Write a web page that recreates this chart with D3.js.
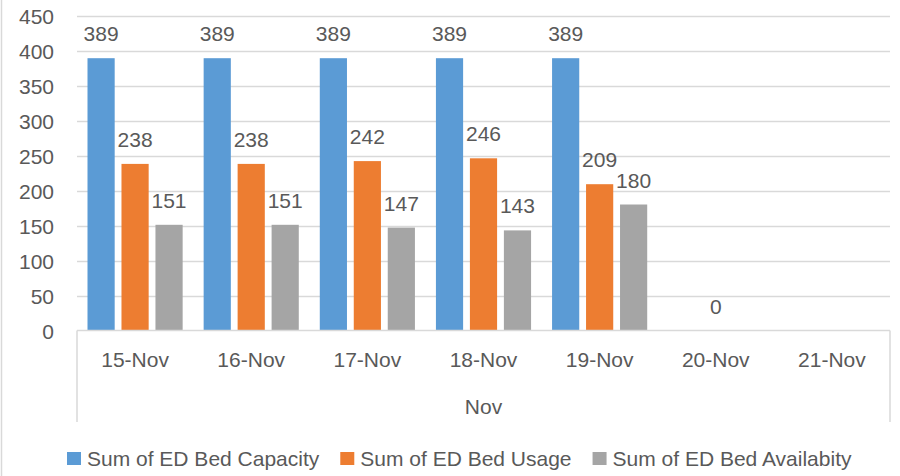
<!DOCTYPE html>
<html>
<head>
<meta charset="utf-8">
<script src="https://cdn.jsdelivr.net/npm/d3@7"></script>
<style>
  body { margin: 0; background: #fff; }
  svg text { font-family: 'Liberation Sans', Arial, sans-serif; fill: #595959; }
</style>
</head>
<body>
<div id="chart"></div>
<script>
const categories = ['15-Nov', '16-Nov', '17-Nov', '18-Nov', '19-Nov', '20-Nov', '21-Nov']
const seriesNames = ['Sum of ED Bed Capacity', 'Sum of ED Bed Usage', 'Sum of ED Bed Availabity']
const capacity = [389, 389, 389, 389, 389, null, null]
const usage = [238, 238, 242, 246, 209, 0, null]
const availability = [151, 151, 147, 143, 180, null, null]
const yTicks = [0, 50, 100, 150, 200, 250, 300, 350, 400, 450]
const groupLabel = 'Nov'

const colors = ['#5B9BD5', '#ED7D31', '#A5A5A5']
const dims = { width: 900, height: 476, left: 77, right: 890, top: 15.5, bottom: 330.5 }

const rows = categories.map((c, i) => ({
  cat: c,
  values: [capacity[i], usage[i], availability[i]]
}))

const svg = d3.select('#chart').append('svg')
  .attr('width', dims.width)
  .attr('height', dims.height)

// outer chart border (left edge visible)
svg.append('line')
  .attr('x1', 1.5).attr('x2', 1.5).attr('y1', 0).attr('y2', dims.height)
  .attr('stroke', '#D9D9D9').attr('stroke-width', 1.5)

const x0 = d3.scaleBand().domain(categories).range([dims.left, dims.right]).padding(0)
const x1 = d3.scaleBand().domain(d3.range(3))
  .range([10.5, x0.bandwidth() - 10.5]).paddingInner(0.2)
const y = d3.scaleLinear().domain([0, 450]).range([dims.bottom, dims.top])

// gridlines
svg.append('g').selectAll('line')
  .data(yTicks.filter(d => d > 0))
  .join('line')
  .attr('x1', dims.left).attr('x2', dims.right)
  .attr('y1', d => Math.round(y(d)) + 0.5).attr('y2', d => Math.round(y(d)) + 0.5)
  .attr('stroke', '#D9D9D9').attr('stroke-width', 1.5)

// y tick labels
const yAxis = d3.axisLeft(y).tickValues(yTicks).tickSize(0).tickPadding(0)
const yg = svg.append('g')
  .attr('transform', `translate(${dims.left - 23}, 0)`)
  .call(yAxis)
yg.select('.domain').remove()
yg.selectAll('text')
  .style('font-size', '21px')
  .style('font-family', "'Liberation Sans', Arial, sans-serif")
  .attr('fill', '#595959')
  .attr('dy', '0.36em')

// bars
const groups = svg.append('g').selectAll('g')
  .data(rows)
  .join('g')
  .attr('transform', d => `translate(${x0(d.cat)}, 0)`)

groups.selectAll('rect')
  .data(d => d.values.map((v, i) => ({ v, i })).filter(e => e.v != null))
  .join('rect')
  .attr('x', d => x1(d.i))
  .attr('width', x1.bandwidth())
  .attr('y', d => y(d.v))
  .attr('height', d => y(0) - y(d.v))
  .attr('fill', d => colors[d.i])

groups.selectAll('text')
  .data(d => d.values.map((v, i) => ({ v, i })).filter(e => e.v != null))
  .join('text')
  .attr('x', d => x1(d.i) + x1.bandwidth() / 2)
  .attr('y', d => y(d.v) - 17)
  .attr('text-anchor', 'middle')
  .style('font-size', '21px')
  .text(d => d.v)

// x axis line and outer category separators
svg.append('line')
  .attr('x1', dims.left).attr('x2', dims.right)
  .attr('y1', dims.bottom).attr('y2', dims.bottom)
  .attr('stroke', '#D9D9D9').attr('stroke-width', 1.5)
;[dims.left, dims.right].forEach(xv => {
  svg.append('line')
    .attr('x1', xv).attr('x2', xv)
    .attr('y1', dims.bottom).attr('y2', 422)
    .attr('stroke', '#D9D9D9').attr('stroke-width', 1.5)
})

svg.append('g').selectAll('text')
  .data(categories)
  .join('text')
  .attr('x', d => x0(d) + x0.bandwidth() / 2)
  .attr('y', 366.5)
  .attr('text-anchor', 'middle')
  .style('font-size', '21px')
  .text(d => d)

svg.append('text')
  .attr('x', (dims.left + dims.right) / 2)
  .attr('y', 413.5)
  .attr('text-anchor', 'middle')
  .style('font-size', '21px')
  .text(groupLabel)

// legend
const legend = svg.append('g')
let lx = 67
seriesNames.forEach((name, i) => {
  legend.append('rect')
    .attr('x', lx).attr('y', 452)
    .attr('width', 14).attr('height', 13)
    .attr('fill', colors[i])
  const t = legend.append('text')
    .attr('x', lx + 20)
    .attr('y', 466)
    .style('font-size', '21px')
    .text(name)
  lx += 20 + t.node().getComputedTextLength() + 21
})
</script>
</body>
</html>
